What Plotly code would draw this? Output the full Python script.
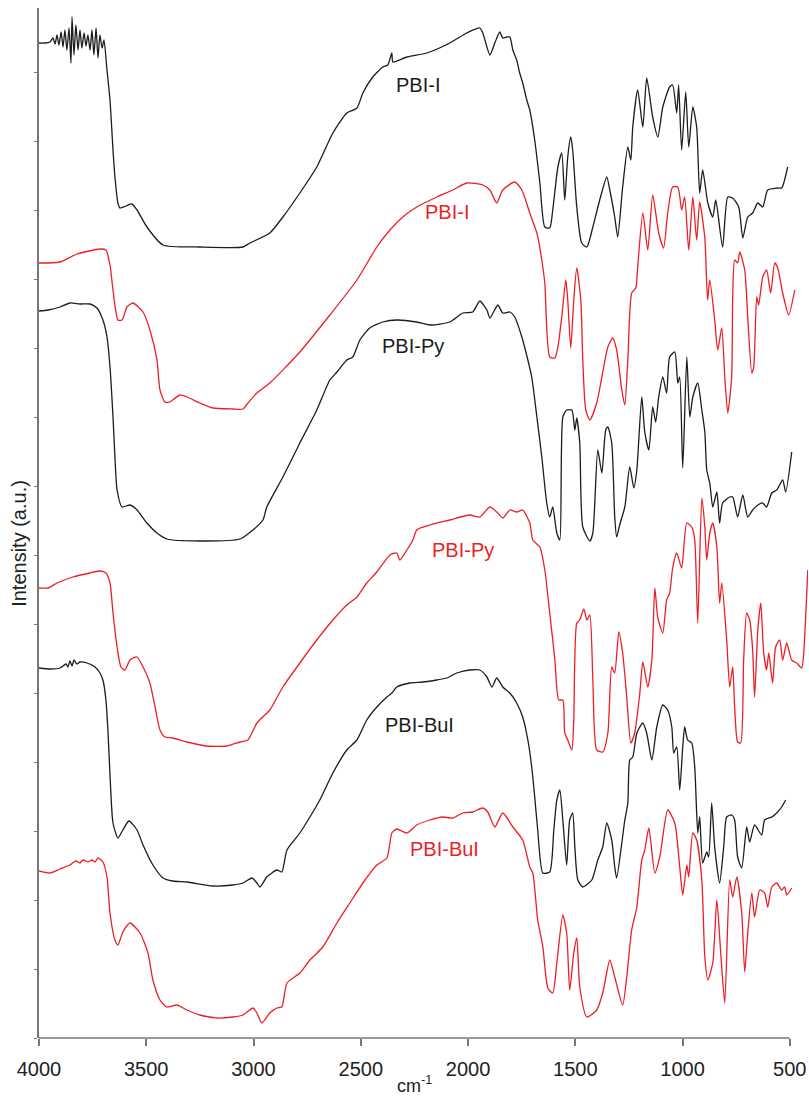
import plotly.graph_objects as go

# ---------------- data (wavenumber in cm-1, intensity in a.u.) ----------------
wn_pbi_i_k = [4000, 3972, 3949, 3935, 3925, 3916, 3907, 3897, 3888, 3879, 3870, 3860, 3851, 3846,
              3837, 3828, 3818, 3809, 3800, 3790, 3781, 3772, 3762, 3753, 3744, 3734, 3725, 3716,
              3706, 3697, 3683, 3669, 3655, 3646, 3632, 3623, 3595, 3567, 3543, 3497, 3422, 3250,
              3049, 3017, 2924, 2863, 2784, 2705, 2630, 2565, 2518, 2490, 2444, 2397, 2374, 2355,
              2350, 2285, 2192, 2085, 2006, 1945, 1931, 1898, 1875, 1852, 1838, 1819, 1805, 1791,
              1773, 1759, 1745, 1726, 1712, 1689, 1665, 1642, 1619, 1605, 1581, 1563, 1549, 1535,
              1521, 1512, 1493, 1470, 1446, 1418, 1386, 1353, 1339, 1316, 1302, 1279, 1255, 1241,
              1232, 1209, 1185, 1167, 1139, 1115, 1092, 1060, 1046, 1027, 1018, 1004, 985, 971,
              952, 934, 920, 906, 882, 859, 845, 813, 789, 766, 738, 719, 696, 673, 649, 626, 603,
              561, 538, 510]
int_pbi_i_k = [995, 995, 996, 1000, 994, 1003, 993, 1006, 991, 1008, 988, 1010, 975, 1021,
               983, 1013, 988, 1008, 990, 1005, 992, 1003, 988, 1008, 983, 1010, 980, 1003,
               990, 998, 968, 938, 888, 861, 835, 830, 832, 834, 828, 811, 793, 791,
               791, 795, 805, 821, 845, 871, 905, 925, 930, 945, 961, 971, 973, 985,
               976, 981, 985, 995, 1005, 1010, 1005, 983, 995, 1006, 1000, 1001, 1001, 988,
               978, 965, 955, 938, 928, 898, 855, 811, 810, 828, 871, 885, 838, 881,
               901, 888, 831, 795, 791, 811, 838, 861, 848, 821, 801, 851, 891, 878,
               911, 948, 911, 960, 921, 901, 931, 951, 953, 925, 953, 888, 946, 891,
               931, 911, 845, 868, 835, 821, 838, 791, 841, 840, 831, 800, 821, 825, 835, 831, 848,
               850, 850, 871]

wn_pbi_i_r = [4000, 3902, 3823, 3716, 3688, 3669, 3655, 3632, 3613, 3590, 3562, 3515, 3483, 3450,
              3436, 3413, 3390, 3343, 3310, 3250, 3189, 3096, 3049, 3026, 2984, 2924, 2784, 2644,
              2518, 2425, 2364, 2304, 2239, 2145, 2071, 2006, 1931, 1898, 1866, 1838, 1782, 1749,
              1712, 1679, 1656, 1642, 1619, 1595, 1581, 1563, 1544, 1535, 1521, 1507, 1493, 1474,
              1465, 1451, 1432, 1400, 1376, 1348, 1325, 1307, 1283, 1269, 1255, 1237, 1218, 1209,
              1185, 1162, 1139, 1111, 1088, 1069, 1046, 1022, 1004, 990, 971, 952, 934, 920, 896,
              883, 873, 850, 836, 817, 803, 789, 771, 766, 757, 743, 733, 710, 696, 677, 668, 654,
              645, 626, 608, 589, 570, 556, 533, 505, 477]
int_pbi_i_r = [775, 776, 784, 789, 788, 773, 748, 718, 718, 731, 735, 726, 708, 678,
               648, 636, 636, 643, 641, 635, 630, 629, 629, 635, 645, 655, 686, 723,
               758, 791, 808, 821, 831, 841, 848, 855, 853, 848, 835, 848, 856, 848,
               825, 805, 778, 755, 681, 680, 691, 721, 758, 738, 690, 738, 770, 738,
               678, 628, 618, 635, 661, 691, 700, 688, 648, 633, 678, 745, 750, 771,
               825, 788, 843, 805, 790, 825, 851, 851, 828, 841, 788, 841, 798, 836, 800,
               738, 758, 718, 688, 710, 661, 625, 661, 741, 778, 775, 786, 768, 721, 665, 671, 741,
               733, 761, 768, 745, 775, 770, 745, 723, 748]

wn_pbi_py_k = [4000, 3958, 3902, 3856, 3809, 3762, 3730, 3702, 3683, 3669, 3655, 3646, 3636, 3613,
               3576, 3543, 3497, 3450, 3404, 3250, 3063, 3003, 2956, 2938, 2863, 2784, 2705, 2644,
               2611, 2565, 2537, 2504, 2458, 2397, 2332, 2239, 2178, 2085, 2024, 1978, 1945, 1912,
               1898, 1861, 1838, 1805, 1782, 1749, 1721, 1703, 1679, 1656, 1633, 1619, 1605, 1586,
               1572, 1558, 1540, 1516, 1502, 1493, 1479, 1465, 1432, 1418, 1395, 1376, 1358, 1348,
               1330, 1316, 1307, 1293, 1269, 1246, 1227, 1213, 1190, 1176, 1157, 1139, 1125, 1111,
               1092, 1074, 1060, 1036, 1022, 1013, 999, 980, 966, 952, 929, 910, 896, 887, 873,
               859, 840, 827, 813, 780, 766, 743, 719, 696, 673, 649, 626, 608, 584, 561, 533,
               519, 491]
int_pbi_py_k = [727, 728, 731, 735, 734, 734, 730, 718, 701, 671, 621, 581, 548, 531,
                533, 528, 515, 505, 499, 497, 499, 508, 518, 531, 561, 595, 628, 658,
                666, 678, 681, 698, 710, 716, 718, 716, 713, 716, 725, 726, 737, 728,
                720, 733, 725, 726, 721, 701, 678, 661, 621, 581, 535, 521, 531, 505,
                498, 621, 628, 628, 608, 620, 595, 511, 497, 505, 588, 565, 608, 611,
                595, 521, 501, 513, 531, 571, 550, 568, 641, 606, 588, 631, 616, 641,
                661, 645, 681, 686, 655, 661, 570, 681, 621, 641, 655, 628, 606, 568, 555,
                531, 546, 515, 535, 541, 541, 521, 543, 521, 528, 533, 535, 531, 545, 548, 558,
                546, 586]

wn_pbi_py_r = [4000, 3958, 3916, 3842, 3762, 3716, 3688, 3669, 3655, 3636, 3618, 3599, 3576, 3543,
               3515, 3483, 3459, 3436, 3413, 3376, 3310, 3217, 3124, 3063, 3026, 2984, 2924, 2863,
               2784, 2705, 2630, 2565, 2518, 2472, 2425, 2364, 2332, 2318, 2285, 2257, 2239, 2178,
               2085, 1992, 1945, 1898, 1866, 1838, 1805, 1773, 1745, 1712, 1698, 1665, 1642, 1619,
               1595, 1577, 1558, 1549, 1535, 1516, 1507, 1493, 1479, 1460, 1446, 1432, 1418, 1400,
               1372, 1348, 1330, 1316, 1297, 1279, 1260, 1241, 1223, 1199, 1185, 1162, 1143, 1129,
               1115, 1092, 1074, 1060, 1046, 1027, 1004, 980, 957, 943, 929, 910, 896, 887, 873,
               859, 840, 827, 817, 794, 780, 766, 757, 743, 729, 715, 701, 687, 673, 664, 649, 635,
               622, 608, 598, 580, 566, 547, 533, 514, 491, 468, 444, 435, 416]
int_pbi_py_r = [450, 450, 455, 461, 465, 467, 465, 455, 425, 391, 371, 368, 378, 381,
                371, 355, 331, 308, 301, 300, 296, 292, 292, 296, 298, 315, 328, 351,
                375, 398, 418, 433, 441, 455, 466, 483, 485, 478, 488, 498, 508, 513,
                518, 523, 521, 531, 526, 520, 528, 526, 528, 515, 498, 491, 468, 425,
                378, 338, 338, 305, 298, 288, 318, 415, 418, 429, 418, 423, 358, 288,
                286, 305, 371, 365, 406, 385, 341, 295, 305, 345, 376, 351, 378, 450,
                420, 405, 438, 445, 470, 485, 470, 515, 511, 498, 415, 540, 511, 478, 505,
                515, 491, 435, 455, 398, 351, 371, 331, 296, 295, 378, 425, 418, 388, 341, 408, 435,
                386, 368, 385, 355, 391, 398, 378, 395, 378, 375, 370, 385, 468]

wn_pbi_bui_k = [4000, 3949, 3902, 3874, 3865, 3856, 3846, 3837, 3823, 3809, 3776, 3739, 3716, 3702,
                3688, 3678, 3669, 3655, 3632, 3609, 3581, 3543, 3515, 3469, 3422, 3376, 3310, 3189,
                3096, 3049, 3007, 2984, 2970, 2938, 2891, 2868, 2844, 2784, 2737, 2691, 2630, 2565,
                2518, 2472, 2425, 2378, 2355, 2332, 2271, 2211, 2145, 2099, 2052, 1992, 1945, 1912,
                1889, 1866, 1838, 1805, 1773, 1745, 1721, 1703, 1689, 1675, 1651, 1619, 1600, 1586,
                1572, 1558, 1540, 1526, 1512, 1502, 1488, 1465, 1423, 1395, 1372, 1353, 1330, 1316,
                1307, 1283, 1269, 1255, 1246, 1232, 1213, 1185, 1167, 1143, 1120, 1092, 1069, 1050,
                1041, 1027, 1013, 999, 990, 976, 957, 943, 929, 920, 906, 887, 878, 864, 850, 827,
                808, 794, 771, 757, 743, 724, 701, 687, 664, 631, 617, 584, 561, 538, 519]
int_pbi_bui_k = [370, 369, 370, 374, 371, 377, 372, 378, 374, 376, 375, 371, 365, 358,
                 338, 305, 263, 215, 200, 208, 217, 208, 193, 173, 160, 157, 156, 152,
                 153, 155, 160, 155, 151, 161, 168, 166, 188, 205, 221, 238, 265, 288,
                 298, 318, 331, 341, 345, 351, 355, 356, 358, 360, 365, 368, 368, 361,
                 351, 360, 351, 345, 335, 321, 298, 271, 241, 208, 165, 166, 208, 238,
                 248, 218, 173, 218, 225, 191, 158, 151, 158, 178, 191, 215, 198, 171,
                 160, 195, 218, 235, 278, 281, 305, 315, 305, 278, 311, 333, 328, 311,
                 285, 291, 248, 291, 311, 298, 295, 271, 205, 221, 175, 186, 181, 235, 191, 155,
                 191, 221, 223, 218, 181, 170, 211, 196, 213, 203, 218, 221, 225, 231, 238]

wn_pbi_bui_r = [4000, 3949, 3902, 3856, 3828, 3809, 3795, 3772, 3753, 3739, 3725, 3702, 3683, 3669,
                3646, 3632, 3609, 3576, 3529, 3492, 3469, 3436, 3404, 3357, 3310, 3250, 3171, 3096,
                3049, 3003, 2984, 2961, 2924, 2891, 2868, 2844, 2784, 2737, 2677, 2611, 2551, 2490,
                2425, 2378, 2355, 2332, 2285, 2239, 2178, 2117, 2071, 2024, 1978, 1931, 1908, 1875,
                1838, 1791, 1745, 1712, 1698, 1675, 1651, 1628, 1605, 1586, 1558, 1540, 1526, 1507,
                1493, 1479, 1446, 1400, 1372, 1339, 1316, 1279, 1260, 1237, 1213, 1190, 1176, 1157,
                1129, 1106, 1069, 1036, 1013, 999, 980, 971, 952, 934, 910, 896, 882, 859, 840, 822,
                803, 780, 766, 747, 724, 710, 696, 677, 664, 640, 617, 603, 584, 561, 538, 524, 514,
                491]
int_pbi_bui_r = [167, 165, 169, 173, 177, 175, 178, 176, 178, 176, 180, 176, 161, 125,
                 98, 93, 106, 115, 105, 85, 58, 38, 31, 33, 28, 23, 20, 21,
                 23, 30, 25, 15, 25, 30, 31, 55, 65, 78, 91, 115, 135, 155,
                 173, 180, 205, 209, 205, 213, 218, 221, 220, 225, 226, 230, 226, 211,
                 225, 211, 198, 171, 165, 118, 91, 50, 45, 75, 123, 105, 48, 85,
                 100, 51, 21, 28, 45, 78, 61, 33, 61, 108, 131, 178, 188, 210,
                 165, 181, 228, 215, 171, 143, 173, 161, 205, 198, 158, 81, 58, 75, 138, 85,
                 35, 158, 141, 161, 125, 66, 105, 145, 121, 148, 145, 131, 151, 155, 148, 151, 143,
                 150]

label_text = ["PBI-I", "PBI-I", "PBI-Py", "PBI-Py", "PBI-BuI", "PBI-BuI"]
label_wn = [2234, 2099, 2257, 2024, 2225, 2108]
label_int = [953, 826, 692, 488, 313, 189]

x_ticks = [4000, 3500, 3000, 2500, 2000, 1500, 1000, 500]

BLACK = "#1c1c1c"
RED = "#ec1f24"
AXIS = "#777777"
FONT = "Liberation Sans, Arial, sans-serif"

series = [
    (wn_pbi_i_k, int_pbi_i_k, BLACK),
    (wn_pbi_i_r, int_pbi_i_r, RED),
    (wn_pbi_py_k, int_pbi_py_k, BLACK),
    (wn_pbi_py_r, int_pbi_py_r, RED),
    (wn_pbi_bui_k, int_pbi_bui_k, BLACK),
    (wn_pbi_bui_r, int_pbi_bui_r, RED),
]
label_colors = [BLACK, RED, BLACK, RED, BLACK, RED]

fig = go.Figure()
for xs, ys, col in series:
    fig.add_trace(go.Scatter(x=xs, y=ys, mode="lines",
                             line=dict(color=col, width=1.3, shape="spline", smoothing=0.6),
                             hoverinfo="skip", showlegend=False))

for t, xw, yi, c in zip(label_text, label_wn, label_int, label_colors):
    fig.add_annotation(x=xw, y=yi, text=t, showarrow=False,
                       font=dict(family=FONT, size=20, color=c))

# x-axis line from 4000 to 500 only
fig.add_shape(type="line", xref="x", yref="paper", x0=x_ticks[0], x1=x_ticks[-1],
              y0=0, y1=0, line=dict(color=AXIS, width=1.6))

# axis titles
fig.add_annotation(xref="paper", yref="paper", x=-0.027, y=0.48, text="Intensity (a.u.)",
                   textangle=-90, showarrow=False, xanchor="center", yanchor="middle",
                   font=dict(family=FONT, size=20, color="#222"))
fig.add_annotation(xref="x", yref="paper", x=2250, y=0, yshift=-46, text="cm<sup>-1</sup>",
                   showarrow=False, xanchor="center", yanchor="middle",
                   font=dict(family=FONT, size=18, color="#222"))

fig.update_layout(
    width=809, height=1099,
    margin=dict(l=39, r=1, t=8, b=61),
    paper_bgcolor="white", plot_bgcolor="white",
    showlegend=False,
    font=dict(family=FONT, size=20, color="#222"),
)
fig.update_xaxes(range=[4000, 415], tickvals=x_ticks, ticktext=[str(v) for v in x_ticks],
                 ticks="outside", ticklen=7, tickwidth=1.5, tickcolor=AXIS,
                 showline=False, showgrid=False, zeroline=False,
                 tickfont=dict(family=FONT, size=20, color="#222"), ticklabelstandoff=6)
fig.update_yaxes(range=[0, 1030], tick0=0, dtick=69, ticks="outside", ticklen=3,
                 tickcolor=AXIS, tickwidth=1, showticklabels=False,
                 showline=True, linecolor=AXIS, linewidth=1.6,
                 showgrid=False, zeroline=False)

fig.write_html("out.html")
